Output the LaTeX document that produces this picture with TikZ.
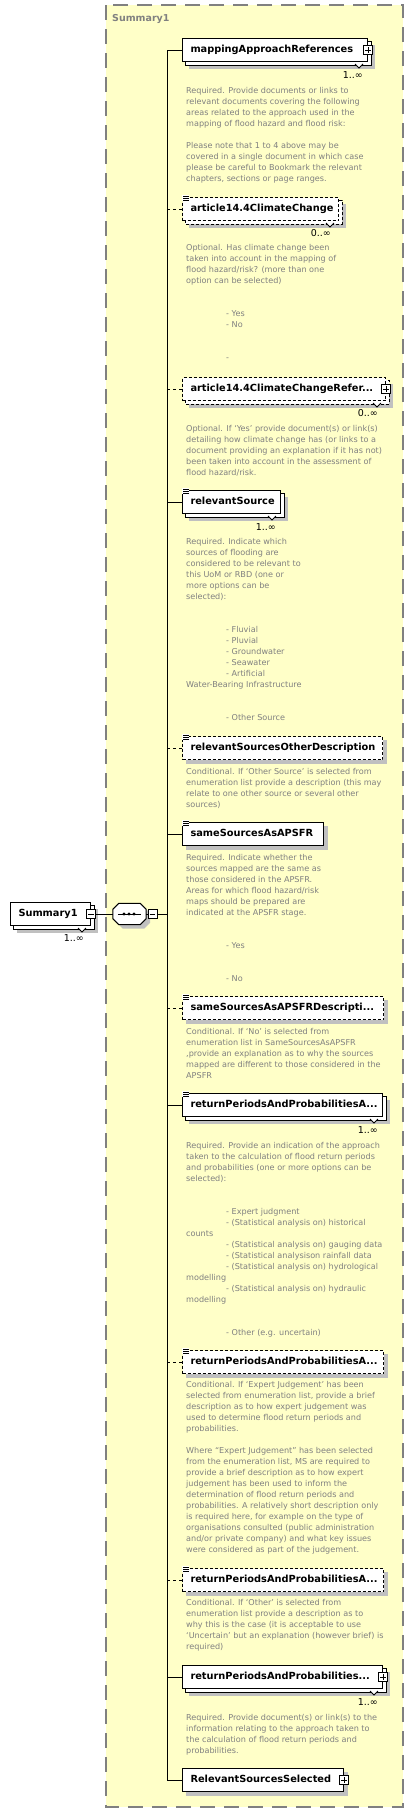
\documentclass[tikz,border=0pt]{standalone}
\usepackage{fontspec}
\setmainfont{DejaVu Sans}
\definecolor{grpyellow}{RGB}{255,255,200}
\definecolor{shadowgray}{RGB}{192,192,192}
\definecolor{descgray}{RGB}{128,128,128}
\pgfdeclarelayer{bg}\pgfdeclarelayer{shad}\pgfdeclarelayer{back}
\pgfsetlayers{bg,shad,back,main}
\newcommand\xsdstack[2][]{%
 \begin{pgfonlayer}{back}
 \draw[fill=white,line width=1pt,#1] ([shift={(3,3)}]#2.north west) rectangle ([shift={(3,3)}]#2.south east);
 \draw[fill=white,line width=0.8pt] ([shift={(-13,2)}]#2.south east) -- ([shift={(-9,6)}]#2.south east) -- ([shift={(-5,2)}]#2.south east);
 \end{pgfonlayer}
 \begin{pgfonlayer}{shad}
 \fill[shadowgray] ([shift={(7,7)}]#2.north west) rectangle ([shift={(7,7)}]#2.south east);
 \end{pgfonlayer}}
\newcommand\xsdshadow[1]{%
 \begin{pgfonlayer}{shad}
 \fill[shadowgray] ([shift={(4,4)}]#1.north west) rectangle ([shift={(4,4)}]#1.south east);
 \end{pgfonlayer}}
\newcommand\xsdplus[2]{%
 \node[pm] (#2) at (#1.east) {};
 \draw[line width=0.8pt] ([xshift=2pt]#2.west) -- ([xshift=-2pt]#2.east) ([yshift=-2pt]#2.north) -- ([yshift=2pt]#2.south);}
\newcommand\xsdminus[2]{%
 \node[pm] (#2) at #1 {};
 \draw[line width=0.8pt] ([xshift=2pt]#2.west) -- ([xshift=-2pt]#2.east);}
\newcommand\xsdeq[1]{%
 \fill[white] ([shift={(0,-2)}]#1.north west) rectangle ([shift={(7,4)}]#1.north west);
 \draw[line width=0.7pt] ([shift={(1,-1)}]#1.north west) -- ++(6,0)
   ([shift={(1,1)}]#1.north west) -- ++(6,0)
   ([shift={(1,3)}]#1.north west) -- ++(6,0);}
\newcommand\xsdoct[2]{%
 \path[#1] ([shift={(0,6)}]#2.north west) -- ([shift={(6,0)}]#2.north west) -- ([shift={(-6,0)}]#2.north east) -- ([shift={(0,6)}]#2.north east)
 -- ([shift={(0,-6)}]#2.south east) -- ([shift={(-6,0)}]#2.south east) -- ([shift={(6,0)}]#2.south west) -- ([shift={(0,-6)}]#2.south west) -- cycle;}
\begin{document}
\begin{tikzpicture}[x=1pt,y=-1pt,
 el/.style={draw=black,fill=white,line width=1pt,anchor=west,minimum height=23pt,inner xsep=8pt,inner ysep=0pt,align=left,font=\fontsize{9.8}{11}\selectfont\bfseries,text height=7.5pt,text depth=2pt},
 opt/.style={dash pattern=on 3pt off 2pt},
 desc/.style={anchor=north west,inner sep=0pt,align=left,font=\fontsize{8.1}{11}\selectfont,text=descgray},
 mult/.style={anchor=east,inner sep=0pt,font=\fontsize{9.5}{11}\selectfont},
 pm/.style={draw=black,fill=white,line width=0.8pt,minimum size=9pt,inner sep=0pt},
 conn/.style={line width=1pt},
 optconn/.style={line width=1pt,dash pattern=on 3pt off 3pt},
 seqbox/.style={minimum width=33pt,minimum height=21pt,inner sep=0pt}
]
\useasboundingbox (0,0) rectangle (414,1813);
\begin{pgfonlayer}{bg}
\draw[fill=grpyellow,draw=gray,line width=1.5pt,dash pattern=on 15pt off 9pt] (106,5) rectangle (403,1807);
\end{pgfonlayer}
\node[anchor=west,inner sep=0pt,font=\fontsize{9.5}{11}\selectfont\bfseries,text=descgray] (cap) at (112,19) {Summary1};

% root
\node[el,text width=64pt,inner xsep=8pt] (root) at (10,914) {Summary1};
\xsdstack{root}
\xsdminus{(root.east)}{rootm}
\node[mult] (rootmul) at ([shift={(-7,24)}]root.east) {1..∞};

% sequence
\node[seqbox] (seq) at (129.5,914) {};
\node[seqbox] (seqsh) at (133.5,918) {};
\begin{pgfonlayer}{shad}
\xsdoct{fill=shadowgray}{seqsh}
\end{pgfonlayer}
\xsdoct{draw=black,fill=white,line width=1pt}{seq}
\draw[line width=1pt] ([xshift=5pt]seq.west) -- ([xshift=-5pt]seq.east);
\fill (124,914) circle (1.6pt) (129,914) circle (1.6pt) (134,914) circle (1.6pt);
\xsdminus{(152.5,914)}{seqm}
\coordinate (spine) at (167,914);

% elements
\node[el,text width=169pt] (n1) at (182,50) {mappingApproachReferences};
\xsdstack{n1}\xsdplus{n1}{n1p}
\node[mult] (n1m) at ([shift={(-5,25)}]n1.east) {1..∞};

\node[el,opt,text width=140pt] (n2) at (182,209) {article14.4ClimateChange};
\xsdstack[opt]{n2}\xsdeq{n2}
\node[mult] (n2m) at ([shift={(-8,24)}]n2.east) {0..∞};

\node[el,opt,text width=187pt] (n3) at (182,389) {article14.4ClimateChangeRefer...};
\xsdstack[opt]{n3}\xsdplus{n3}{n3p}
\node[mult] (n3m) at ([shift={(-8,24)}]n3.east) {0..∞};

\node[el,text width=82pt] (n4) at (182,502) {relevantSource};
\xsdstack{n4}\xsdeq{n4}
\node[mult] (n4m) at ([shift={(-5,25)}]n4.east) {1..∞};

\node[el,opt,text width=184pt] (n5) at (182,748) {relevantSourcesOtherDescription};
\xsdshadow{n5}\xsdeq{n5}

\node[el,text width=125pt] (n6) at (182,834) {sameSourcesAsAPSFR};
\xsdshadow{n6}\xsdeq{n6}

\node[el,opt,text width=185pt] (n7) at (182,1008) {sameSourcesAsAPSFRDescripti...};
\xsdshadow{n7}\xsdeq{n7}

\node[el,text width=184pt] (n8) at (182,1105) {returnPeriodsAndProbabilitiesA...};
\xsdstack{n8}\xsdeq{n8}
\node[mult] (n8m) at ([shift={(-5,25)}]n8.east) {1..∞};

\node[el,opt,text width=185pt] (n9) at (182,1362) {returnPeriodsAndProbabilitiesA...};
\xsdshadow{n9}\xsdeq{n9}

\node[el,opt,text width=185pt] (n10) at (182,1580) {returnPeriodsAndProbabilitiesA...};
\xsdshadow{n10}\xsdeq{n10}

\node[el,text width=184pt] (n11) at (182,1677) {returnPeriodsAndProbabilities...};
\xsdstack{n11}\xsdplus{n11}{n11p}
\node[mult] (n11m) at ([shift={(-5,25)}]n11.east) {1..∞};

\node[el,text width=145pt] (n12) at (182,1780) {RelevantSourcesSelected};
\xsdshadow{n12}\xsdplus{n12}{n12p}

% connectors
\draw[conn] (rootm.east) -- (seq.west);
\draw[conn] (seq.east) -- (seqm.west);
\draw[conn] (seqm.east) -- (seqm.east -| spine);
\draw[conn] (n1.west -| spine) -- (n12.west -| spine);
\foreach \n in {n1,n4,n6,n8,n11,n12} \draw[conn] (\n.west -| spine) -- (\n.west);
\foreach \n in {n2,n3,n5,n7,n9,n10} \draw[optconn] (\n.west -| spine) -- (\n.west);

% descriptions
\node[desc] (d1) at (186,87.5) {Required. Provide documents or links to\\
relevant documents covering the following\\
areas related to the approach used in the\\
mapping of flood hazard and flood risk:\\[11pt]
Please note that 1 to 4 above may be\\
covered in a single document in which case\\
please be careful to Bookmark the relevant\\
chapters, sections or page ranges.};

\node[desc] (d2) at (186,244.5) {Optional. Has climate change been\\
taken into account in the mapping of\\
flood hazard/risk? (more than one\\
option can be selected)\\[22pt]
\hspace*{40pt}- Yes\\
\hspace*{40pt}- No\\[22pt]
\hspace*{40pt}-};

\node[desc] (d3) at (186,425.5) {Optional. If ‘Yes’ provide document(s) or link(s)\\
detailing how climate change has (or links to a\\
document providing an explanation if it has not)\\
been taken into account in the assessment of\\
flood hazard/risk.};

\node[desc] (d4) at (186,538.5) {Required. Indicate which\\
sources of flooding are\\
considered to be relevant to\\
this UoM or RBD (one or\\
more options can be\\
selected):\\[22pt]
\hspace*{40pt}- Fluvial\\
\hspace*{40pt}- Pluvial\\
\hspace*{40pt}- Groundwater\\
\hspace*{40pt}- Seawater\\
\hspace*{40pt}- Artificial\\
Water-Bearing Infrastructure\\[22pt]
\hspace*{40pt}- Other Source};

\node[desc] (d5) at (186,768.5) {Conditional. If ‘Other Source’ is selected from\\
enumeration list provide a description (this may\\
relate to one other source or several other\\
sources)};

\node[desc] (d6) at (186,854.5) {Required. Indicate whether the\\
sources mapped are the same as\\
those considered in the APSFR.\\
Areas for which flood hazard/risk\\
maps should be prepared are\\
indicated at the APSFR stage.\\[22pt]
\hspace*{40pt}- Yes\\[22pt]
\hspace*{40pt}- No};

\node[desc] (d7) at (186,1028.5) {Conditional. If ‘No’ is selected from\\
enumeration list in SameSourcesAsAPSFR\\
,provide an explanation as to why the sources\\
mapped are different to those considered in the\\
APSFR};

\node[desc] (d8) at (186,1142.5) {Required. Provide an indication of the approach\\
taken to the calculation of flood return periods\\
and probabilities (one or more options can be\\
selected):\\[22pt]
\hspace*{40pt}- Expert judgment\\
\hspace*{40pt}- (Statistical analysis on) historical\\
counts\\
\hspace*{40pt}- (Statistical analysis on) gauging data\\
\hspace*{40pt}- (Statistical analysison rainfall data\\
\hspace*{40pt}- (Statistical analysis on) hydrological\\
modelling\\
\hspace*{40pt}- (Statistical analysis on) hydraulic\\
modelling\\[22pt]
\hspace*{40pt}- Other (e.g. uncertain)};

\node[desc] (d9) at (186,1381.5) {Conditional. If ‘Expert Judgement’ has been\\
selected from enumeration list, provide a brief\\
description as to how expert judgement was\\
used to determine flood return periods and\\
probabilities.\\[11pt]
Where “Expert Judgement” has been selected\\
from the enumeration list, MS are required to\\
provide a brief description as to how expert\\
judgement has been used to inform the\\
determination of flood return periods and\\
probabilities. A relatively short description only\\
is required here, for example on the type of\\
organisations consulted (public administration\\
and/or private company) and what key issues\\
were considered as part of the judgement.};

\node[desc] (d10) at (186,1599.5) {Conditional. If ‘Other’ is selected from\\
enumeration list provide a description as to\\
why this is the case (it is acceptable to use\\
‘Uncertain’ but an explanation (however brief) is\\
required)};

\node[desc] (d11) at (186,1714.5) {Required. Provide document(s) or link(s) to the\\
information relating to the approach taken to\\
the calculation of flood return periods and\\
probabilities.};
\end{tikzpicture}
\end{document}
